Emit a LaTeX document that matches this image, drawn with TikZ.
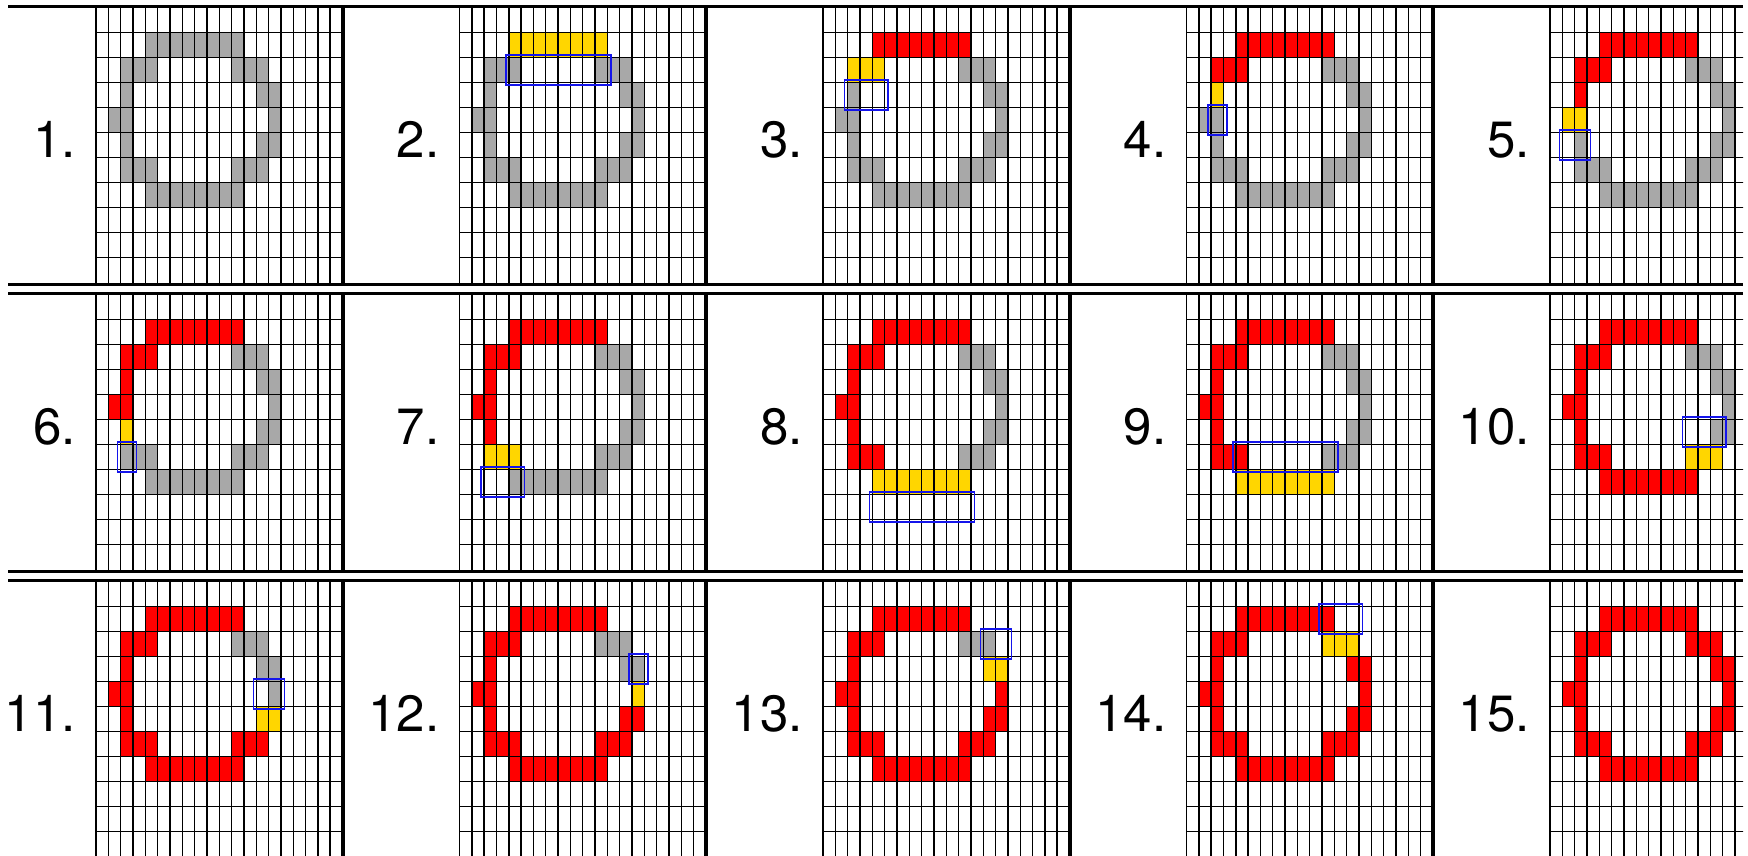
\documentclass[tikz,border=0pt]{standalone}
\usepackage{fontspec}
\setmainfont{TeX Gyre Heros}
\definecolor{cred}{RGB}{255,0,0}
\definecolor{cyel}{RGB}{255,214,0}
\definecolor{cgray}{RGB}{168,168,168}
\definecolor{cblue}{RGB}{20,20,235}
\tikzset{
  gridline/.style={black,line width=1.4pt},
  thickh/.style={black,line width=3pt},
  thickv/.style={black,line width=4pt},
  bluebox/.style={draw=cblue,line width=1.4pt},
  lbl/.style={font=\fontsize{51}{60}\selectfont,inner sep=0pt,anchor=base east}
}
\newcommand\cellw{12.325}
\newcommand\cellh{25}
% #1 row i, #2 col j, #3 number of red runs, #4 index of yellow run, #5 blue row (0 = none), #6 #7 blue cols, #8 label
\newcommand\drawpanel[8]{%
  \pgfmathsetmacro\gx{96+363.5*#2}%
  \pgfmathsetmacro\ty{7.5+287*#1}%
  \foreach \rr/\aa/\bb [count=\k] in {1/4/11,2/2/4,3/2/2,4/1/2,5/2/2,6/2/4,7/4/11,6/11/13,5/13/14,4/14/14,3/13/14,2/11/13} {%
    \ifnum\k>#3 \ifnum\k=#4 \def\cc{cyel}\else\def\cc{cgray}\fi\else\def\cc{cred}\fi
    \fill[\cc] ({\gx+\aa*\cellw},{\ty+\rr*\cellh}) rectangle ({\gx+(\bb+1)*\cellw},{\ty+(\rr+1)*\cellh});
  }%
  \foreach \c in {0,...,19} {\draw[gridline] ({\gx+\c*\cellw},{\ty-1.5}) -- ({\gx+\c*\cellw},{\ty+276.5});}%
  \foreach \r in {1,...,10} {\draw[gridline] ({\gx},{\ty+\r*\cellh}) -- ({\gx+246.5},{\ty+\r*\cellh});}%
  \ifnum#5>0
    \draw[bluebox] ({\gx+#6*\cellw-3},{\ty+#5*\cellh-2.5}) rectangle ({\gx+(#7+1)*\cellw+3.5},{\ty+(#5+1)*\cellh+2.5});
  \fi
  \node[lbl] (lab-#1-#2) at ({\gx-20},{\ty+149.5}) {#8};%
}
\begin{document}
\begin{tikzpicture}[x=1pt,y=-1pt]
\useasboundingbox (0,0) rectangle (1748,855);
\fill[white] (0,0) rectangle (1748,855);
\begin{scope}
\clip (8,0) rectangle (1743,855);
\drawpanel{0}{0}{0}{0}{0}{0}{0}{1.}
\drawpanel{0}{1}{0}{1}{2}{4}{11}{2.}
\drawpanel{0}{2}{1}{2}{3}{2}{4}{3.}
\drawpanel{0}{3}{2}{3}{4}{2}{2}{4.}
\drawpanel{0}{4}{3}{4}{5}{1}{2}{5.}
\drawpanel{1}{0}{4}{5}{6}{2}{2}{6.}
\drawpanel{1}{1}{5}{6}{7}{2}{4}{7.}
\drawpanel{1}{2}{6}{7}{8}{4}{11}{8.}
\drawpanel{1}{3}{6}{7}{6}{4}{11}{9.}
\drawpanel{1}{4}{7}{8}{5}{11}{13}{10.}
\drawpanel{2}{0}{8}{9}{4}{13}{14}{11.}
\drawpanel{2}{1}{9}{10}{3}{14}{14}{12.}
\drawpanel{2}{2}{10}{11}{2}{13}{14}{13.}
\drawpanel{2}{3}{11}{12}{1}{11}{13}{14.}
\drawpanel{2}{4}{12}{0}{0}{0}{0}{15.}
\foreach \i in {0,1,2} {
  \draw[thickh] (8,{6+287*\i}) -- (1743,{6+287*\i});
  \draw[thickh] (8,{284+287*\i}) -- (1743,{284+287*\i});
  \foreach \j in {1,...,4} {
    \draw[thickv] ({-21+363.5*\j},{6+287*\i}) -- ({-21+363.5*\j},{284+287*\i});
  }
}
\end{scope}
\end{tikzpicture}
\end{document}
